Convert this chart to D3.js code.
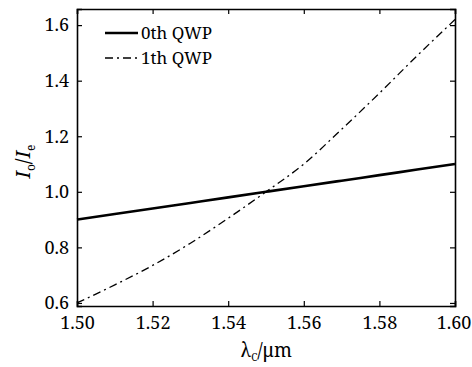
<!DOCTYPE html>
<html>
<head>
<meta charset="utf-8">
<script src="https://cdn.jsdelivr.net/npm/d3@7"></script>
<style>
  body { margin: 0; background: #fff; }
</style>
</head>
<body>
<div id="chart"></div>
<script>
const width = 472;
const height = 367;
const FONT = "Noto Serif";

// wavelength samples (um)
const lambda = [1.50, 1.51, 1.52, 1.53, 1.54, 1.55, 1.56, 1.57, 1.58, 1.59, 1.60];
// Io/Ie for the zero order quarter-wave plate
const qwp0 = [0.90, 0.92, 0.94, 0.96, 0.98, 1.00, 1.02, 1.04, 1.06, 1.08, 1.10];
// Io/Ie for the first order quarter-wave plate
const qwp1 = [0.60, 0.665, 0.735, 0.815, 0.905, 1.00, 1.10, 1.225, 1.355, 1.49, 1.62];

const xTicks = [1.50, 1.52, 1.54, 1.56, 1.58, 1.60];
const yTicks = [0.6, 0.8, 1.0, 1.2, 1.4, 1.6];
const legendNames = ["0th QWP", "1th QWP"];

const margin = { top: 9, right: 17, bottom: 61, left: 77 };
const iw = width - margin.left - margin.right;
const ih = height - margin.top - margin.bottom;

const svg = d3.select("#chart").append("svg")
  .attr("width", width)
  .attr("height", height)
  .attr("font-family", FONT);

const g = svg.append("g").attr("transform", `translate(${margin.left},${margin.top})`);

const x = d3.scaleLinear().domain([1.50, 1.60]).range([0, iw]);
const y = d3.scaleLinear().domain([0.589, 1.658]).range([ih, 0]);

// inward ticks on all four sides
const tl = 5;
const xAxis = g.append("g").attr("transform", `translate(0,${ih})`)
  .call(d3.axisBottom(x).tickValues(xTicks).tickSize(-tl).tickPadding(tl + 5).tickFormat(d3.format(".2f")));
g.append("g")
  .call(d3.axisTop(x).tickValues(xTicks).tickSize(-tl).tickFormat(""));
g.append("g")
  .call(d3.axisLeft(y).tickValues(yTicks).tickSize(-tl).tickPadding(tl + 3).tickFormat(d3.format(".1f")));
g.append("g").attr("transform", `translate(${iw},0)`)
  .call(d3.axisRight(y).tickValues(yTicks).tickSize(-tl).tickFormat(""));

// drop the axis default sans-serif so the svg font is used
g.selectAll("g").attr("font-family", null).attr("font-size", null);
g.selectAll(".domain").attr("stroke", "#000").attr("stroke-width", 1.6);
g.selectAll(".tick line").attr("stroke", "#000").attr("stroke-width", 1.2);
g.selectAll(".tick text")
  .attr("font-family", FONT)
  .attr("font-size", 18)
  .attr("fill", "#000");
// last label sits at the page edge
xAxis.selectAll(".tick text").filter((d) => d === 1.60).attr("dx", -1.5);

const series = [
  { name: legendNames[0], values: qwp0, width: 2.6, dash: null },
  { name: legendNames[1], values: qwp1, width: 1.3, dash: "8,4,2,4" },
];

series.forEach((s) => {
  g.append("path")
    .datum(lambda.map((l, i) => [l, s.values[i]]))
    .attr("fill", "none")
    .attr("stroke", "#000")
    .attr("stroke-width", s.width)
    .attr("stroke-dasharray", s.dash)
    .attr("d", d3.line().curve(d3.curveMonotoneX).x((d) => x(d[0])).y((d) => y(d[1])));
});

// legend
const leg = g.append("g").attr("transform", "translate(28,24)");
series.forEach((s, i) => {
  const row = leg.append("g").attr("transform", `translate(0,${i * 25})`);
  row.append("line")
    .attr("x1", 0).attr("x2", 33)
    .attr("stroke", "#000")
    .attr("stroke-width", s.width)
    .attr("stroke-dasharray", s.dash);
  row.append("text")
    .attr("x", 36).attr("y", 6)
    .attr("font-family", FONT)
    .attr("font-size", 17)
    .text(s.name);
});

// x label
const xl = svg.append("text")
  .attr("x", margin.left + iw / 2)
  .attr("y", 357)
  .attr("text-anchor", "middle")
  .attr("font-family", FONT)
  .attr("font-size", 19);
xl.append("tspan").text("λ");
xl.append("tspan").attr("dy", 4).attr("font-size", 10).text("C");
xl.append("tspan").attr("dy", -4).text("/μm");

// y label
const yl = svg.append("text")
  .attr("transform", `translate(30,${margin.top + ih / 2 + 4}) rotate(-90)`)
  .attr("text-anchor", "middle")
  .attr("font-family", FONT)
  .attr("font-size", 20);
yl.append("tspan").attr("font-style", "italic").text("I");
yl.append("tspan").attr("dy", 5).attr("font-size", 12).text("o");
yl.append("tspan").attr("dy", -5).text("/");
yl.append("tspan").attr("font-style", "italic").text("I");
yl.append("tspan").attr("dy", 5).attr("font-size", 12).text("e");
</script>
</body>
</html>
